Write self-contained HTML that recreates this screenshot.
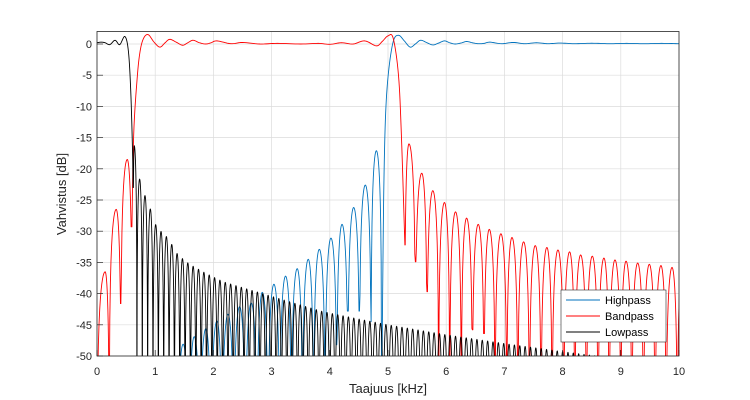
<!DOCTYPE html>
<html><head><meta charset="utf-8"><style>
html,body{margin:0;padding:0;background:#fff;}
svg{display:block;font-family:"Liberation Sans",Arial,sans-serif;}
</style></head><body>
<svg id="chart" width="750" height="400" viewBox="0 0 750 400">
<defs><clipPath id="pc"><rect x="97" y="31.5" width="582" height="324.5"/></clipPath></defs>
<rect x="97" y="31.5" width="582" height="324.5" fill="#fff"/>
<g id="grid"></g>
<g id="series" clip-path="url(#pc)"></g>
<rect x="97" y="31.5" width="582" height="324.5" fill="none" stroke="#262626" stroke-width="0.8"/>
<g id="ticks"></g>
<text x="388" y="393" text-anchor="middle" font-size="13" fill="#262626">Taajuus [kHz]</text>
<text transform="translate(66,194) rotate(-90)" text-anchor="middle" font-size="13" fill="#262626">Vahvistus [dB]</text>
<g>
<rect x="561" y="290" width="105" height="52" fill="#fff" stroke="#262626" stroke-width="0.6"/>
<line x1="566" y1="300" x2="600" y2="300" stroke="#0072BD" stroke-width="1"/>
<text x="605" y="304" font-size="11" fill="#000">Highpass</text>
<line x1="566" y1="316" x2="600" y2="316" stroke="#FF0000" stroke-width="1"/>
<text x="605" y="320" font-size="11" fill="#000">Bandpass</text>
<line x1="566" y1="332" x2="600" y2="332" stroke="#000" stroke-width="1"/>
<text x="605" y="336" font-size="11" fill="#000">Lowpass</text>
</g>
</svg>
<script>
// ---- data ----
const xTicks = [0,1,2,3,4,5,6,7,8,9,10];
const yTicks = [0,-5,-10,-15,-20,-25,-30,-35,-40,-45,-50];
// Highpass
const hpNulls = [[1.38,-60],[1.58,-60],[1.77,-60],[1.96,-60],[2.15,-60],[2.35,-60],[2.55,-60],[2.75,-60],[2.94,-60],[3.14,-60],[3.34,-60],[3.53,-60],[3.72,-60],[3.92,-60],[4.12,-48.2],[4.31,-42.8],[4.51,-42.8],[4.71,-44.5],[4.89,-60]];
const hpPeaks = [[1.48,-48.1],[1.67,-46.9],[1.87,-45.6],[2.06,-44.4],[2.25,-43.3],[2.45,-42.1],[2.65,-41.5],[2.84,-39.8],[3.04,-38.5],[3.24,-37.2],[3.44,-36.0],[3.63,-34.5],[3.82,-32.9],[4.02,-31.1],[4.21,-28.9],[4.41,-26.2],[4.61,-22.6],[4.80,-17.1]];
const hpPass = [[4.89,-60],[4.91,-38],[4.93,-22],[4.96,-11],[5.01,-4.4],[5.09,0.4],[5.18,1.4],[5.28,0.5],[5.38,-0.5],[5.47,0],[5.56,0.6],[5.67,0.2],[5.77,-0.15],[5.87,0.15],[5.97,0.5],[6.06,0.2],[6.15,0],[6.25,0.15],[6.35,0.4],[6.45,0.2],[6.55,0.05],[6.65,0.1],[6.75,0.3],[6.95,0.05],[7.15,0.25],[7.35,0.05],[7.55,0.2],[7.75,0.05],[7.95,0.15],[8.2,0.05],[8.5,0.12],[8.8,0.05],[9.1,0.1],[9.4,0.05],[9.7,0.1],[10,0.05]];
// Bandpass
const bpNullsL = [[0.0,-60],[0.21,-60],[0.41,-41.6],[0.60,-29.3]];
const bpPeaksL = [[0.14,-36.5],[0.33,-26.5],[0.52,-18.5]];
const bpPass = [[0.60,-29.3],[0.63,-14.6],[0.69,-5.5],[0.74,-1.2],[0.80,0.9],[0.88,1.5],[0.98,0.3],[1.08,-0.5],[1.17,0.2],[1.25,0.75],[1.36,0.3],[1.47,-0.2],[1.56,0.2],[1.65,0.6],[1.76,0.2],[1.87,0],[1.96,0.2],[2.06,0.5],[2.3,0.05],[2.5,0.25],[2.8,0],[3.1,0.1],[3.5,0],[3.8,0.1],[4.0,-0.05],[4.2,0.2],[4.40,0],[4.60,0.5],[4.80,-0.3],[4.90,0.4],[5.0,1.3],[5.09,0.9],[5.18,-5],[5.23,-14.6],[5.29,-32.2]];
const bpNullsR = [[5.29,-32.2],[5.47,-34.9],[5.67,-39.7],[5.87,-60],[6.06,-60],[6.26,-60],[6.45,-45.8],[6.65,-46.4],[6.84,-60],[7.04,-60],[7.23,-60],[7.43,-60],[7.63,-60],[7.82,-60],[8.02,-60],[8.21,-60],[8.41,-60],[8.61,-60],[8.80,-60],[9.00,-60],[9.19,-60],[9.39,-60],[9.59,-60],[9.78,-60],[9.97,-60],[10.2,-60]];
const bpPeaksR = [[5.36,-16.0],[5.58,-20.7],[5.77,-23.5],[5.97,-25.4],[6.16,-26.9],[6.35,-27.9],[6.55,-28.9],[6.74,-29.7],[6.94,-30.4],[7.13,-31.0],[7.33,-31.7],[7.53,-32.3],[7.73,-32.6],[7.92,-33.0],[8.12,-33.3],[8.31,-33.8],[8.51,-34.0],[8.71,-34.3],[8.90,-34.6],[9.09,-34.8],[9.29,-35.1],[9.49,-35.3],[9.69,-35.5],[9.88,-35.8],[10.06,-36.0]];
// Lowpass
const lpPass = [[0,0.2],[0.07,0.3],[0.14,0.2],[0.22,-0.1],[0.31,0.6],[0.39,-0.1],[0.48,1.2],[0.54,-1.2],[0.58,-7.6],[0.61,-17],[0.62,-23]];
const lpEnvelope = [[0.64,-16.3],[0.72,-21.3],[0.82,-24.2],[0.91,-26.2],[0.96,-28.2],[1.05,-29.6],[1.22,-31.1],[1.39,-33.8],[1.59,-35.3],[1.88,-36.8],[2.17,-38.1],[2.45,-38.9],[2.85,-40],[3.31,-41.3],[3.89,-42.9],[4.46,-44],[5.0,-45],[6.0,-46.6],[7.0,-48],[8.0,-49.3],[9.0,-50.5],[10.1,-51.5]];
const lpLobeSpacing = 0.092;

// ---- axes ----
const X = f => 97 + f*58.2;
const Y = d => 44 - d*6.24;
const NS = 'http://www.w3.org/2000/svg';
function mk(tag, attrs, parent){const e=document.createElementNS(NS,tag);for(const k in attrs)e.setAttribute(k,attrs[k]);parent.appendChild(e);return e;}
const grid=document.getElementById('grid'), ticks=document.getElementById('ticks'), series=document.getElementById('series');
xTicks.forEach(t=>{
  const g=mk('line',{x1:X(t),x2:X(t),y1:31.5,y2:356,stroke:'#dcdcdc','stroke-width':0.7},grid);
  
  
  const tk=mk('line',{x1:X(t),x2:X(t),y1:356,y2:350,stroke:'#262626','stroke-width':0.7},ticks);
  
  
  const tx=mk('text',{x:X(t),y:375,'text-anchor':'middle','font-size':11,fill:'#262626'},ticks);
  tx.textContent=t;
  
  
});
yTicks.forEach(t=>{
  const g=mk('line',{x1:97,x2:679,y1:Y(t),y2:Y(t),stroke:'#dcdcdc','stroke-width':0.7},grid);
  
  
  const tk=mk('line',{x1:97,x2:103,y1:Y(t),y2:Y(t),stroke:'#262626','stroke-width':0.7},ticks);
  
  
  const tx=mk('text',{x:92,y:Y(t)+4,'text-anchor':'end','font-size':11,fill:'#262626'},ticks);
  tx.textContent=t;
  
  
});

// ---- curve builders ----
function lobes(nulls, peaks){
  const out=[], N=12;
  for(let i=0;i<peaks.length;i++){
    const [fp,p]=peaks[i];
    const sides=[nulls[i],nulls[i+1]];
    const Ap=Math.pow(10,p/20);
    for(let s=0;s<2;s++){
      const [fn,dn]=sides[s]; const An=Math.pow(10,dn/20);
      for(let k=0;k<=N;k++){
        const t = s===0 ? 1-k/N : k/N;
        const f = fp + (fn-fp)*t;
        const a = Math.max(Ap*Math.cos(Math.PI/2*t), An, 1e-4);
        out.push([f,20*Math.log10(a)]);
      }
    }
  }
  return out;
}
function smooth(pts){
  const out=[];
  for(let i=0;i<pts.length-1;i++){
    const p0=pts[Math.max(0,i-1)],p1=pts[i],p2=pts[i+1],p3=pts[Math.min(pts.length-1,i+2)];
    for(let k=0;k<8;k++){
      const t=k/8,t2=t*t,t3=t2*t;
      const c=(a,b,c_,d)=>0.5*((2*b)+(-a+c_)*t+(2*a-5*b+4*c_-d)*t2+(-a+3*b-3*c_+d)*t3);
      out.push([c(p0[0],p1[0],p2[0],p3[0]),c(p0[1],p1[1],p2[1],p3[1])]);
    }
  }
  out.push(pts[pts.length-1]);
  return out;
}
function interpEnv(env,f){
  if(f<=env[0][0])return env[0][1];
  for(let i=0;i<env.length-1;i++) if(f<=env[i+1][0]){const t=(f-env[i][0])/(env[i+1][0]-env[i][0]);return env[i][1]+t*(env[i+1][1]-env[i][1]);}
  return env[env.length-1][1];
}
function draw(pts,color,name){
  const d=pts.map((p,i)=>(i?'L':'M')+X(p[0]).toFixed(2)+','+Y(Math.max(p[1],-70)).toFixed(2)).join('');
  const e=mk('path',{d:d,fill:'none',stroke:color,'stroke-width':0.9,'stroke-linejoin':'round'},series);
  
  
}

// Highpass
draw(lobes(hpNulls,hpPeaks).concat(smooth(hpPass)),'#0072BD','highpass-line');
// Bandpass
draw(lobes(bpNullsL,bpPeaksL).concat(smooth(bpPass),lobes(bpNullsR,bpPeaksR)),'#FF0000','bandpass-line');
// Lowpass
const lpPeaks=[], lpNulls=[[0.62,-23]];
for(let f=lpEnvelope[0][0]; f<10.15; f+=lpLobeSpacing){
  lpPeaks.push([f,interpEnv(lpEnvelope,f)]);
  lpNulls.push([f+lpLobeSpacing/2,-60]);
}
draw(smooth(lpPass).concat(lobes(lpNulls,lpPeaks)),'#000000','lowpass-line');
</script>
</body></html>
